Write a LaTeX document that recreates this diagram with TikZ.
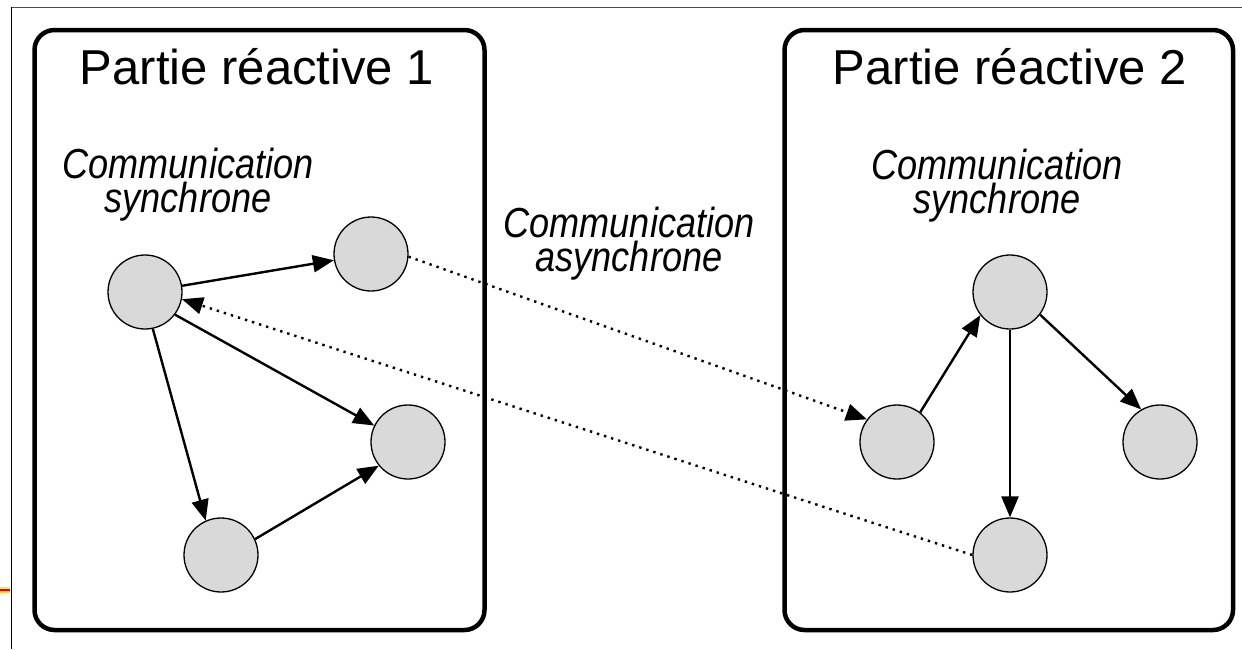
\documentclass[tikz,border=0pt]{standalone}
\usepackage{fontspec}
\setmainfont{Liberation Sans}
\newfontfamily\condfont[FakeStretch=0.86]{Liberation Sans}
\usetikzlibrary{arrows.meta}
\definecolor{nodegray}{HTML}{D9D9D9}
\definecolor{markred}{HTML}{E00000}
\definecolor{markyellow}{HTML}{FFE34D}
\tikzset{
  partbox/.style={draw=black, line width=4.5pt, rounded corners=20pt},
  state/.style={circle, draw=black, fill=nodegray, line width=1.3pt, minimum size=74pt, inner sep=0pt},
  sync/.style={line width=2.4pt, -{Triangle[length=21pt,width=17pt]}},
  async/.style={line width=2.4pt, dash pattern=on 2.4pt off 5pt, -{Triangle[length=21pt,width=17pt]}},
  titletext/.style={font=\fontsize{49}{49}\selectfont, inner sep=0pt, anchor=base},
  commtext/.style={font=\condfont\itshape\fontsize{42}{34}\selectfont, align=center, inner sep=0pt, anchor=base}
}
\begin{document}
\begin{tikzpicture}[x=1pt, y=-1pt]
\useasboundingbox (0,0) rectangle (1242,649);
% frame lines
\draw[line width=1pt, black!70] (11,7) -- (1242,7);
\draw[line width=1pt, black] (11,7) -- (11,649);
\draw[line width=6pt, markyellow] (0,590) -- (10,590);
\draw[line width=2.2pt, markred] (0,590) -- (10,590);
% boxes
\draw[partbox] (34.5,30) rectangle (484.5,630);
\draw[partbox] (784.5,30) rectangle (1233,630);
% titles
\node[titletext] (t1) at (257,84) {Partie réactive 1};
\node[titletext] (t2) at (1010,84) {Partie réactive 2};
% italic labels (base = last line)
\node[commtext] (c1) at (188,212) {Communication\\synchrone};
\node[commtext] (c2) at (997,213) {Communication\\synchrone};
\node[commtext] (c3) at (629,271) {Communication\\asynchrone};
% left nodes
\node[state] (A) at (145,292) {};
\node[state] (B) at (371,254) {};
\node[state] (C) at (408,442) {};
\node[state] (D) at (221,555) {};
% right nodes
\node[state] (E) at (1010,292) {};
\node[state] (F) at (897,442) {};
\node[state] (G) at (1160,442) {};
\node[state] (H) at (1010,555) {};
% synchronous edges
\draw[sync] (A) -- (B);
\draw[sync] (A.-37) -- (C.154);
\draw[sync] (A.-78) -- (D.114);
\draw[sync] (D.25) -- (C.219);
\draw[sync] (F.52) -- (E.218);
\draw[sync] (E.-90) -- (H.90);
\draw[sync] (E.-37) -- (G.120);
% asynchronous edges
\draw[async] (B.-4) -- (F.143);
\draw[async] (H.180) -- (A.-11);
\end{tikzpicture}
\end{document}
